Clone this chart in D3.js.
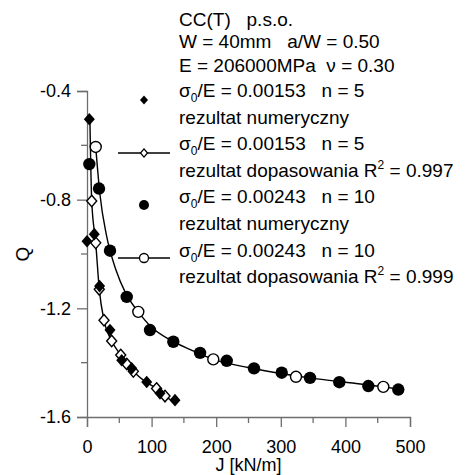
<!DOCTYPE html>
<html>
<head>
<meta charset="utf-8">
<script src="https://cdn.jsdelivr.net/npm/d3@7"></script>
<style>
  body { margin: 0; background: #fff; }
  svg { font-family: Arial, "Liberation Sans", sans-serif; }
</style>
</head>
<body>
<div id="chart"></div>
<script>
// sigma0/E = 0.00153, n = 5 : numerical result (filled diamonds)
const num1J = [0, 3.6, 11.3, 19.5, 35.6, 53.7, 69.2, 92.4, 113, 136.2];
const num1Q = [-0.953, -0.504, -0.927, -1.118, -1.280, -1.391, -1.421, -1.471, -1.513, -1.538];
// sigma0/E = 0.00153, n = 5 : fitted result (open diamonds + line)
const fit1J = [7.3, 13.5, 19.0, 26.3, 38.2, 52.2, 61.5, 71.7, 107.7, 120.7];
const fit1Q = [-0.805, -0.959, -1.13, -1.244, -1.32, -1.372, -1.405, -1.432, -1.495, -1.523];
const line1J = [4.6, 7.3, 13.5, 19.0, 26.3, 38.2, 52.2, 61.5, 71.7, 90, 107.7, 120.7, 136];
const line1Q = [-0.52, -0.805, -0.959, -1.13, -1.244, -1.32, -1.372, -1.405, -1.432, -1.47, -1.495, -1.523, -1.545];

// sigma0/E = 0.00243, n = 10 : numerical result (filled circles)
const num2J = [3.6, 18.6, 35.6, 61.5, 97.5, 133.6, 175, 216.3, 258.5, 301.4, 345.2, 390.6, 435.5, 481.9];
const num2Q = [-0.669, -0.759, -0.988, -1.158, -1.28, -1.323, -1.364, -1.393, -1.421, -1.437, -1.456, -1.472, -1.486, -1.499];
// sigma0/E = 0.00243, n = 10 : fitted result (open circles + line)
const fit2J = [13.5, 79.4, 195.5, 323.5, 458.7];
const fit2Q = [-0.606, -1.213, -1.388, -1.452, -1.489];
const line2J = [13.5, 20, 30, 45, 60, 79.4, 100, 130, 160, 195.5, 250, 300, 350, 400, 458.7, 482];
const line2Q = [-0.606, -0.78, -0.93, -1.06, -1.145, -1.213, -1.27, -1.318, -1.352, -1.388, -1.418, -1.44, -1.458, -1.472, -1.489, -1.497];

const xMajor = [0, 100, 200, 300, 400, 500];
const xMinor = [50, 150, 250, 350, 450];
const yMajor = [-1.6, -1.2, -0.8, -0.4];
const yMinor = [-1.4, -1.0, -0.6];

const headerLines = ['CC(T)   p.s.o.', 'W = 40mm   a/W = 0.50', 'E = 206000MPa  \u03bd = 0.30'];

const width = 467, height = 475;
const margin = {left: 87, right: 57, top: 91, bottom: 58};

const svg = d3.select('#chart').append('svg')
    .attr('width', width)
    .attr('height', height);

const x = d3.scaleLinear().domain([0, 500]).range([margin.left, width - margin.right]);
const y = d3.scaleLinear().domain([-1.6, -0.4]).range([height - margin.bottom, margin.top]);

const axisColor = '#6e6e6e';

// x axis
const gx = svg.append('g').attr('transform', 'translate(0,' + y(-1.6) + ')');
gx.call(d3.axisBottom(x).tickValues(xMajor).tickSize(10).tickPadding(13).tickFormat(d3.format('d')));
gx.selectAll('.minor').data(xMinor).enter().append('line')
    .attr('class', 'minor')
    .attr('x1', d => x(d)).attr('x2', d => x(d))
    .attr('y1', 0).attr('y2', 6)
    .attr('stroke', axisColor).attr('stroke-width', 1.3);

// y axis
const gy = svg.append('g').attr('transform', 'translate(' + x(0) + ',0)');
gy.call(d3.axisLeft(y).tickValues(yMajor).tickSize(10).tickPadding(6).tickFormat(d3.format('.1f')));
gy.selectAll('.minor').data(yMinor).enter().append('line')
    .attr('class', 'minor')
    .attr('x1', 0).attr('x2', -6)
    .attr('y1', d => y(d)).attr('y2', d => y(d))
    .attr('stroke', axisColor).attr('stroke-width', 1.3);

svg.selectAll('.domain').attr('stroke', axisColor).attr('stroke-width', 1.3);
svg.selectAll('.tick line').attr('stroke', axisColor).attr('stroke-width', 1.3);
svg.selectAll('.tick text').attr('fill', '#000').style('font-size', '18px')
    .style('font-family', 'Arial, "Liberation Sans", sans-serif');
// d3 uses U+2212 for minus; original uses a plain hyphen
gy.selectAll('.tick text').text(d => d3.format('.1f')(d).replace('\u2212', '-'));

// axis titles
svg.append('text')
    .attr('x', (x(0) + x(500)) / 2).attr('y', 471)
    .attr('text-anchor', 'middle').style('font-size', '18px')
    .text('J [kN/m]');
svg.append('text')
    .attr('transform', 'translate(29,' + y(-1.0) + ') rotate(-90)')
    .attr('text-anchor', 'middle').style('font-size', '19px')
    .text('Q');

// markers
const diamond = {
  draw(ctx, size) {
    const w = Math.sqrt(size) / 2, h = w * 1.15;
    ctx.moveTo(0, -h); ctx.lineTo(w, 0); ctx.lineTo(0, h); ctx.lineTo(-w, 0); ctx.closePath();
  }
};
const sym = (type, s) => d3.symbol().type(type).size(s)();

const line = d3.line().x(d => x(d[0])).y(d => y(d[1])).curve(d3.curveMonotoneX);

// fit curves
svg.append('path').datum(d3.zip(line1J, line1Q))
    .attr('d', line).attr('fill', 'none').attr('stroke', '#000').attr('stroke-width', 1.4);
svg.append('path').datum(d3.zip(line2J, line2Q))
    .attr('d', line).attr('fill', 'none').attr('stroke', '#000').attr('stroke-width', 1.4);

// open markers of the fits
svg.selectAll('.fit1').data(d3.zip(fit1J, fit1Q)).enter().append('path')
    .attr('class', 'fit1')
    .attr('transform', d => 'translate(' + x(d[0]) + ',' + y(d[1]) + ')')
    .attr('d', sym(diamond, 100))
    .attr('fill', '#fff').attr('stroke', '#000').attr('stroke-width', 1.4);
svg.selectAll('.fit2').data(d3.zip(fit2J, fit2Q)).enter().append('circle')
    .attr('class', 'fit2')
    .attr('cx', d => x(d[0])).attr('cy', d => y(d[1])).attr('r', 5.5)
    .attr('fill', '#fff').attr('stroke', '#000').attr('stroke-width', 1.4);

// filled markers of the numerical results
svg.selectAll('.num1').data(d3.zip(num1J, num1Q)).enter().append('path')
    .attr('class', 'num1')
    .attr('transform', d => 'translate(' + x(d[0]) + ',' + y(d[1]) + ')')
    .attr('d', sym(diamond, 121))
    .attr('fill', '#000');
svg.selectAll('.num2').data(d3.zip(num2J, num2Q)).enter().append('circle')
    .attr('class', 'num2')
    .attr('cx', d => x(d[0])).attr('cy', d => y(d[1])).attr('r', 6.2)
    .attr('fill', '#000');

// legend / description
const tx = 179;
const lg = svg.append('g').style('font-size', '19px');
const baselines = [26, 47.5, 72, 97, 123.5, 150, 176.5, 203, 229.5, 256.5, 283];

headerLines.forEach((t, i) => {
  lg.append('text').attr('x', tx).attr('y', baselines[i]).style('white-space', 'pre').text(t);
});

function sigmaLine(yb, val, n) {
  const t = lg.append('text').attr('x', tx).attr('y', yb).style('white-space', 'pre');
  t.append('tspan').text('\u03c3');
  t.append('tspan').attr('dy', 5).style('font-size', '12px').text('0');
  t.append('tspan').attr('dy', -5).text('/E = ' + val + '   n = ' + n);
}
function fitLine(yb, r2) {
  const t = lg.append('text').attr('x', tx).attr('y', yb).style('white-space', 'pre');
  t.append('tspan').text('rezultat dopasowania R');
  t.append('tspan').attr('dy', -8).style('font-size', '12px').text('2');
  t.append('tspan').attr('dy', 8).text(' = ' + r2);
}
function numLine(yb) {
  lg.append('text').attr('x', tx).attr('y', yb).text('rezultat numeryczny');
}

sigmaLine(baselines[3], '0.00153', 5);
numLine(baselines[4]);
sigmaLine(baselines[5], '0.00153', 5);
fitLine(baselines[6], '0.997');
sigmaLine(baselines[7], '0.00243', 10);
numLine(baselines[8]);
sigmaLine(baselines[9], '0.00243', 10);
fitLine(baselines[10], '0.999');

// legend symbols
const lx = 144;
lg.append('path').attr('transform', 'translate(' + lx + ',100)')
    .attr('d', sym(diamond, 64)).attr('fill', '#000');
lg.append('line').attr('x1', 118).attr('x2', 170).attr('y1', 153).attr('y2', 153)
    .attr('stroke', '#000').attr('stroke-width', 1.4);
lg.append('path').attr('transform', 'translate(' + lx + ',153)')
    .attr('d', sym(diamond, 50)).attr('fill', '#fff').attr('stroke', '#000').attr('stroke-width', 1.3);
lg.append('circle').attr('cx', lx).attr('cy', 205).attr('r', 5)
    .attr('fill', '#000');
lg.append('line').attr('x1', 118).attr('x2', 170).attr('y1', 258).attr('y2', 258)
    .attr('stroke', '#000').attr('stroke-width', 1.4);
lg.append('circle').attr('cx', lx).attr('cy', 258).attr('r', 4.5)
    .attr('fill', '#fff').attr('stroke', '#000').attr('stroke-width', 1.3);
</script>
</body>
</html>
